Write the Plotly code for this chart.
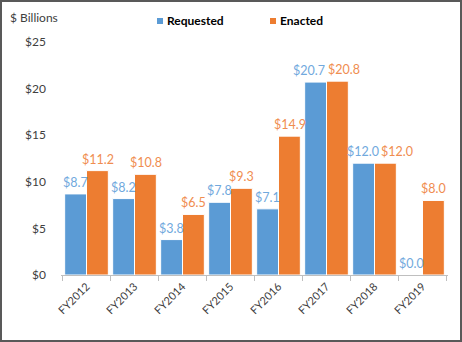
import plotly.graph_objects as go

categories = ["FY2012", "FY2013", "FY2014", "FY2015", "FY2016", "FY2017", "FY2018", "FY2019"]
requested = [8.7, 8.2, 3.8, 7.8, 7.1, 20.7, 12.0, 0.0]
enacted = [11.2, 10.8, 6.5, 9.3, 14.9, 20.8, 12.0, 8.0]
y_ticks = [0, 5, 10, 15, 20, 25]
y_tick_labels = ["$0", "$5", "$10", "$15", "$20", "$25"]

FONT = "Lato, Calibri, Carlito, sans-serif"
W, H = 462, 342
ml, mr, mt, mb = 61, 14, 42, 67
BLUE, ORANGE = "#5B9BD5", "#ED7D31"
BLUE_TXT, ORANGE_TXT = "#71A9DD", "#F08D50"
BARGAP = 0.09

pw = W - ml - mr
ph = H - mt - mb
cat_px = pw / len(categories)
bar_px = cat_px * (1 - BARGAP) / 2

# extra label nudges (pixels) where Excel moved overlapping labels apart
label_nudge = {"FY2017": (-6, 6), "FY2018": (0, 11)}

fig = go.Figure()
fig.add_trace(go.Bar(
    x=categories, y=requested, name="Requested",
    marker=dict(color=BLUE, line=dict(color="white", width=1)),
))
fig.add_trace(go.Bar(
    x=categories, y=enacted, name="Enacted",
    marker=dict(color=ORANGE, line=dict(color="white", width=1)),
))

for c, r, e in zip(categories, requested, enacted):
    nb, no = label_nudge.get(c, (0, 0))
    fig.add_annotation(x=c, y=r, text=f"${r:.1f}", showarrow=False, xref="x", yref="y",
                       xanchor="center", yanchor="bottom", xshift=-bar_px / 2 + nb, yshift=2,
                       font=dict(size=12.5, color=BLUE_TXT, family=FONT))
    fig.add_annotation(x=c, y=e, text=f"${e:.1f}", showarrow=False, xref="x", yref="y",
                       xanchor="center", yanchor="bottom", xshift=bar_px / 2 + no, yshift=2,
                       font=dict(size=12.5, color=ORANGE_TXT, family=FONT))

fig.add_shape(type="rect", xref="paper", yref="paper",
              x0=(-ml + 1) / pw, x1=1 + (mr - 1) / pw,
              y0=(-mb + 1) / ph, y1=1 + (mt - 1) / ph,
              line=dict(color="#595959", width=2), fillcolor="rgba(0,0,0,0)", layer="above")

fig.add_annotation(text="$ Billions", xref="paper", yref="paper",
                   x=(8 - ml) / pw, y=1 + (mt - 18) / ph, xanchor="left", yanchor="middle",
                   showarrow=False, font=dict(size=12, color="#404040", family=FONT))

# custom legend (square next to bold label)
for name, color, sx in [("Requested", BLUE, 157), ("Enacted", ORANGE, 270)]:
    fig.add_shape(type="rect", xref="paper", yref="paper",
                  x0=(sx - ml) / pw, x1=(sx + 6 - ml) / pw,
                  y0=1 + (mt - 24) / ph, y1=1 + (mt - 18) / ph,
                  line=dict(width=0), fillcolor=color)
    fig.add_annotation(text=f"<b>{name}</b>", xref="paper", yref="paper",
                       x=(sx + 8 - ml) / pw, y=1 + (mt - 21) / ph, xanchor="left", yanchor="middle",
                       showarrow=False, font=dict(size=12, color="black", family=FONT))

fig.update_layout(
    width=W, height=H,
    margin=dict(l=ml, r=mr, t=mt, b=mb, autoexpand=False),
    paper_bgcolor="white", plot_bgcolor="white",
    barmode="group", bargap=BARGAP, bargroupgap=0,
    font=dict(family=FONT, size=11, color="#404040"),
    showlegend=False,
    xaxis=dict(showline=True, linecolor="#BFBFBF", ticks="outside", tickson="boundaries",
               ticklen=5, tickcolor="#BFBFBF", tickangle=-45,
               tickfont=dict(size=11, color="#404040")),
    yaxis=dict(range=[0, 25], tickvals=y_ticks, ticktext=y_tick_labels, showgrid=False,
               showline=False, zeroline=False, ticks="", ticklabelstandoff=14,
               tickfont=dict(size=12, color="#404040")),
)

fig.write_html("out.html")
